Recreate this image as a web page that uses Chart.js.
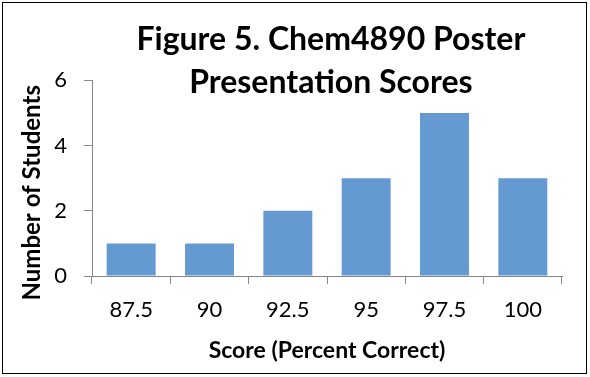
<!DOCTYPE html>
<html>
<head>
<meta charset="utf-8">
<script src="https://cdn.jsdelivr.net/npm/chart.js@4"></script>
<style>
    body { margin: 0; background: #fff; }
    #frame {
        position: absolute; left: 2px; top: 2px;
        width: 583px; height: 370px;
        border: 1px solid #000;
    }
</style>
</head>
<body>
<div id="frame"><canvas id="scoresChart" width="583" height="370"></canvas></div>
<script>
// Данные гистограммы
const scoreLabels = ['87.5', '90', '92.5', '95', '97.5', '100'];
const studentCounts = [1, 1, 2, 3, 5, 3];
const titleLines = ['Figure 5. Chem4890 Poster', 'Presentation Scores'];

const axisColor = '#868686';
const fontFamily = 'Lato, "Open Sans", sans-serif';
const nbsp = '\u00a0';

// в оригинале заголовок и подпись оси Y чуть смещены от центра,
// поэтому добавляем неразрывные пробелы
const titleText = titleLines.map(line => nbsp + line);
const yTitleText = 'Number of Students' + nbsp.repeat(5);

const ctx = document.getElementById('scoresChart').getContext('2d');
new Chart(ctx, {
    type: 'bar',
    data: {
        labels: scoreLabels,
        datasets: [{
            label: 'Number of Students',
            data: studentCounts,
            backgroundColor: '#6599d2',
            barPercentage: 0.625,
            categoryPercentage: 1
        }]
    },
    options: {
        responsive: false,
        animation: false,
        layout: { padding: { left: 17, right: 24, top: 15, bottom: 9 } },
        plugins: {
            legend: { display: false },
            tooltip: { enabled: false },
            title: {
                display: true,
                text: titleText,
                fullSize: false,
                color: '#000',
                font: { family: fontFamily, size: 32, weight: 'bold', lineHeight: 1.35 },
                // заголовок немного заходит на область графика, как в оригинале
                padding: { top: 0, bottom: -24 }
            }
        },
        scales: {
            x: {
                grid: { offset: true, drawOnChartArea: false, tickLength: 8, color: axisColor },
                border: { color: axisColor },
                ticks: { color: '#000', font: { family: fontFamily, size: 22 }, padding: 13 },
                title: {
                    display: true,
                    text: 'Score (Percent Correct)',
                    color: '#000',
                    font: { family: fontFamily, size: 23, weight: 'bold' },
                    padding: { top: 0, bottom: 0 }
                }
            },
            y: {
                min: 0,
                max: 6,
                // фиксированная ширина оси, чтобы линия оси стояла как в оригинале
                afterFit: function(scale) {
                    scale.width = 72;
                },
                ticks: { stepSize: 2, color: '#000', font: { family: fontFamily, size: 22 }, padding: 17 },
                grid: { drawOnChartArea: false, tickLength: 8, color: axisColor },
                border: { color: axisColor },
                title: {
                    display: true,
                    text: yTitleText,
                    color: '#000',
                    font: { family: fontFamily, size: 24, weight: 'bold', lineHeight: 1 },
                    padding: { top: 0, bottom: 0 }
                }
            }
        }
    }
});
</script>
</body>
</html>
